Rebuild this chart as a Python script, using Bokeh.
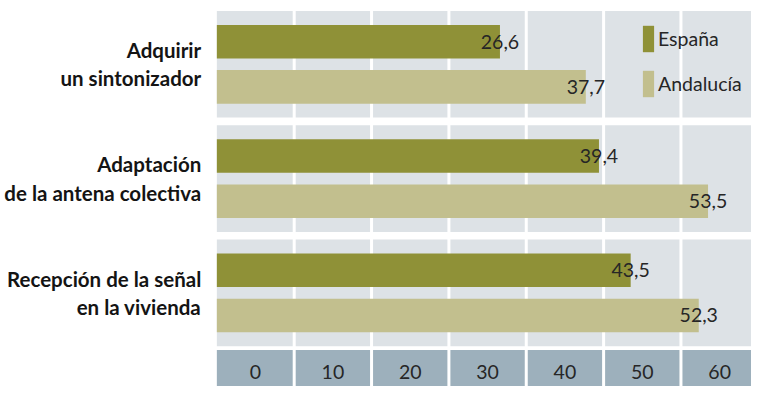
from bokeh.plotting import figure
from bokeh.models import Range1d, ColumnDataSource, Legend, LegendItem
from bokeh.core.properties import value
from bokeh.embed import file_html
from bokeh.resources import INLINE

# ---- data ----
cat_line1 = ["Adquirir", "Adaptación", "Recepción de la señal"]
cat_line2 = ["un sintonizador", "de la antena colectiva", "en la vivienda"]
espana = [26.6, 39.4, 43.5]
andalucia = [37.7, 53.5, 52.3]
tick_values = [0, 10, 20, 30, 40, 50, 60]
tick_labels = ["0", "10", "20", "30", "40", "50", "60"]

# ---- style ----
C_ESP = "#8f9137"
C_AND = "#c2bf8e"
C_CELL = "#dde2e6"
C_BAND = "#9db0bc"
C_TEXT = "#262626"
FONT = "Lato"
PX = 114.3            # pixels per group unit (vertical)
X_MIN = -10           # left edge of the plotting grid
X_MAX = 59.12
X_START = -37.97

n = len(cat_line1)
centers = [-i for i in range(n)]
half_cell = 53.3 / PX
off = 22.6 / PX
bar_h = 33.6 / PX
line_off = 14.2 / PX
band_top = -2.499

p = figure(width=751, height=386, output_backend="svg", toolbar_location=None,
           x_range=Range1d(X_START, X_MAX), y_range=Range1d(-2.819, 0.558),
           x_axis_location=None, y_axis_location=None, min_border=0,
           outline_line_color=None)
p.grid.visible = False
p.background_fill_color = "white"
p.border_fill_color = "white"

# grey cells for each group
p.quad(left=[X_MIN] * n, right=[X_MAX + 5] * n,
       top=[c + half_cell for c in centers], bottom=[c - half_cell for c in centers],
       fill_color=C_CELL, line_color=None)
# axis band
p.quad(left=[X_MIN], right=[X_MAX + 5], top=[band_top], bottom=[-5],
       fill_color=C_BAND, line_color=None)
# white separators
seps = tick_values[:-1]
p.segment(x0=seps, x1=seps, y0=[1] * len(seps), y1=[-5] * len(seps),
          line_color="white", line_width=3)

# bars
src = ColumnDataSource(dict(
    ye=[c + off for c in centers], ya=[c - off for c in centers],
    esp=espana, andl=andalucia,
    esp_lbl=[f"{v:.1f}".replace(".", ",") for v in espana],
    and_lbl=[f"{v:.1f}".replace(".", ",") for v in andalucia],
    left=[X_MIN] * n))
r_esp = p.hbar(y="ye", left="left", right="esp", height=bar_h, source=src,
               fill_color=C_ESP, line_color=None)
r_and = p.hbar(y="ya", left="left", right="andl", height=bar_h, source=src,
               fill_color=C_AND, line_color=None)

# value labels
p.text(x="esp", y="ye", text="esp_lbl", source=src, text_align="center",
       text_baseline="middle", text_font=value(FONT), text_font_size="19.5px",
       text_color=C_TEXT)
p.text(x="andl", y="ya", text="and_lbl", source=src, text_align="center",
       text_baseline="middle", text_font=value(FONT), text_font_size="19.5px",
       text_color=C_TEXT)

# category labels
lab_x = -12.02
p.text(x=[lab_x] * n, y=[c + line_off for c in centers], text=cat_line1,
       text_align="right", text_baseline="middle", text_font=value(FONT),
       text_font_style="bold", text_font_size="20.5px", text_color="#141414")
p.text(x=[lab_x] * n, y=[c - line_off for c in centers], text=cat_line2,
       text_align="right", text_baseline="middle", text_font=value(FONT),
       text_font_style="bold", text_font_size="20.5px", text_color="#141414")

# tick labels, centred in the band cells
p.text(x=[t - 5 for t in tick_values], y=[-2.692] * len(tick_values), text=tick_labels,
       text_align="center", text_baseline="middle", text_font=value(FONT),
       text_font_size="19.5px", text_color=C_TEXT)

legend = Legend(items=[LegendItem(label="España", renderers=[r_esp]),
                       LegendItem(label="Andalucía", renderers=[r_and])],
                location=(641, 286), orientation="vertical",
                glyph_width=14, glyph_height=33, spacing=12, padding=0, margin=0,
                label_standoff=3, border_line_color=None,
                background_fill_alpha=0,
                label_text_font=FONT, label_text_font_size="19.5px",
                label_text_color=C_TEXT)
p.add_layout(legend)

open("out.html", "w").write(file_html(p, INLINE))
